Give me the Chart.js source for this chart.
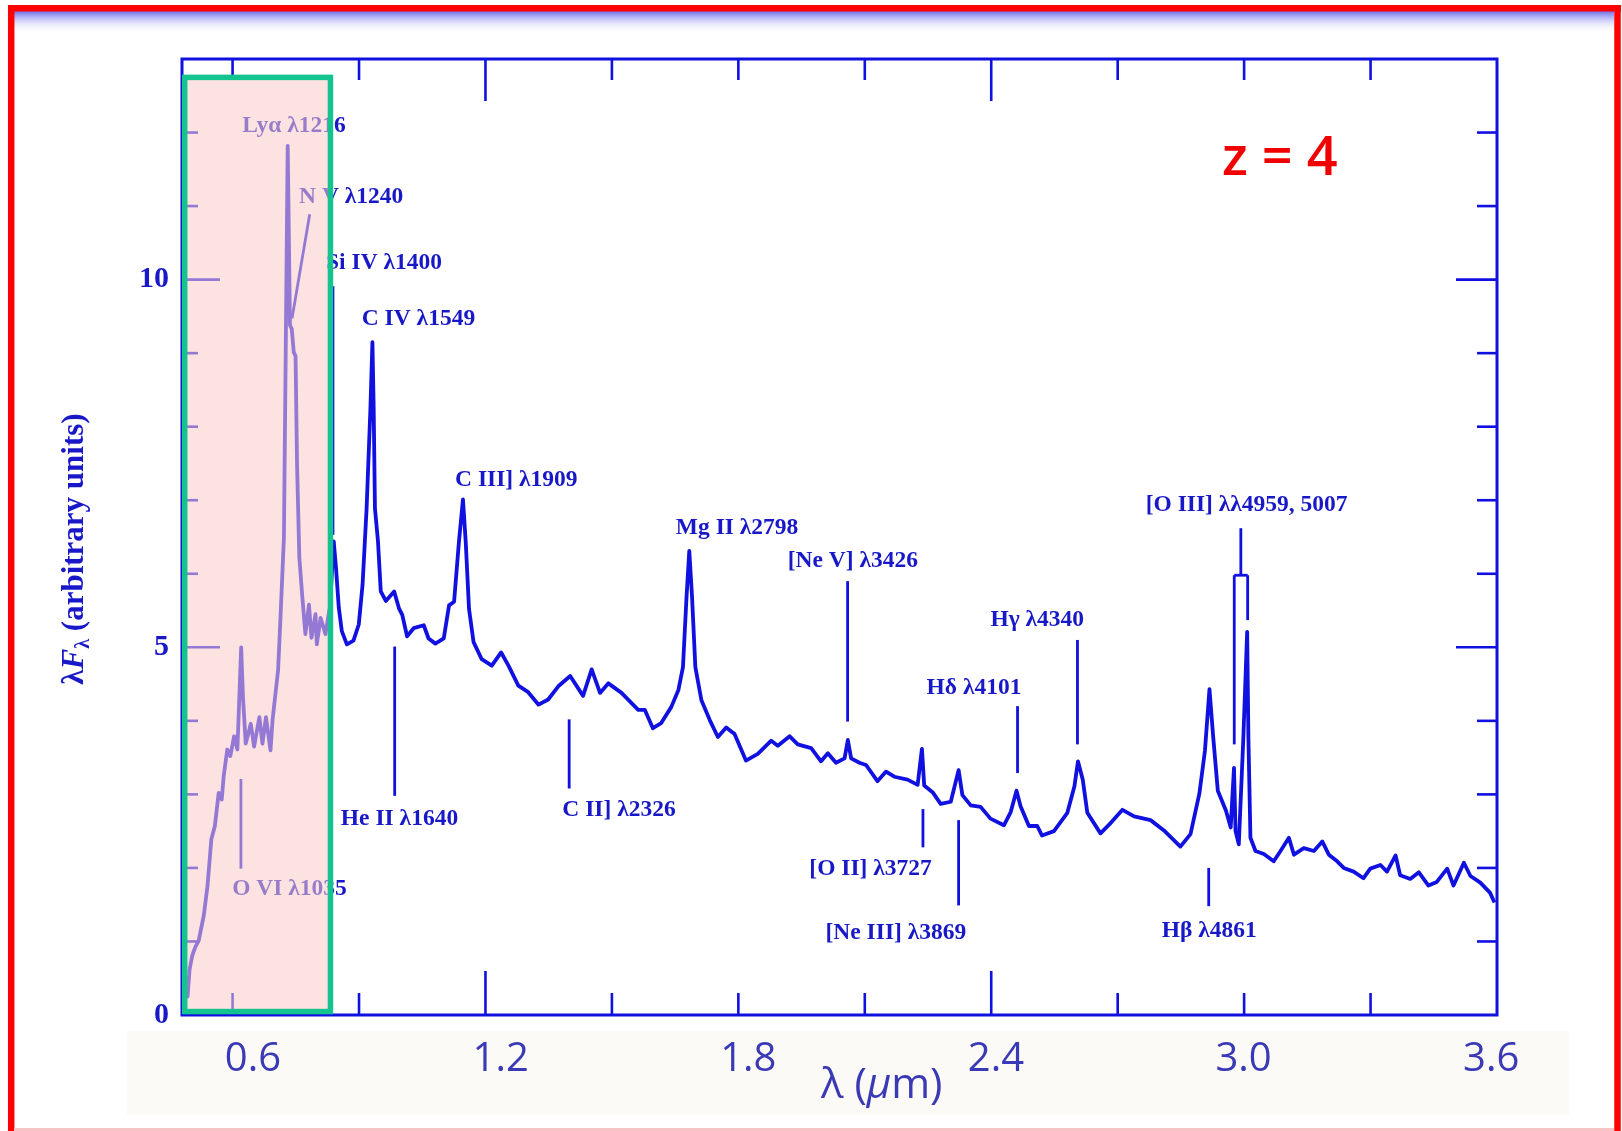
<!DOCTYPE html>
<html>
<head>
<meta charset="utf-8">
<script src="https://cdn.jsdelivr.net/npm/chart.js@4.4.0/dist/chart.umd.min.js"></script>
<style>
html,body{margin:0;padding:0;background:#fff;}
canvas{display:block;}
</style>
</head>
<body>
<canvas id="c" width="1622" height="1131"></canvas>
<script>
// ---- data: composite quasar spectrum, rest wavelength (Å) vs λFλ (arbitrary units) ----
const restWavelength = [805,815,822,830,840,852,866,886,901,916,930,945,957,965,979,991,1006,1019,1034,1041,1052,1072,1085,1106,1118,1132,1150,1158,1180,1189,1203,1218,1227,1234,1242,1249,1255,1264,1275,1288,1302,1312,1328,1333,1348,1367,1385,1400,1409,1420,1432,1452,1478,1499,1514,1530,1545,1553,1558,1563,1575,1586,1606,1639,1658,1671,1690,1716,1756,1775,1802,1835,1856,1876,1895,1911,1922,1935,1953,1985,2025,2062,2091,2130,2169,2210,2248,2288,2335,2386,2420,2453,2486,2538,2604,2630,2662,2695,2735,2763,2781,2795,2806,2817,2830,2854,2887,2919,2952,2985,3030,3077,3130,3156,3203,3235,3288,3327,3354,3386,3420,3433,3446,3479,3505,3550,3584,3617,3669,3709,3726,3735,3768,3800,3840,3871,3886,3919,3958,3997,4050,4077,4100,4116,4149,4182,4201,4248,4301,4329,4343,4362,4380,4432,4472,4519,4565,4630,4683,4748,4788,4823,4845,4863,4878,4896,4928,4947,4960,4966,4979,4997,5012,5017,5025,5045,5078,5117,5144,5177,5197,5236,5276,5309,5335,5368,5394,5433,5472,5499,5539,5565,5599,5617,5657,5691,5729,5762,5803,5828,5869,5895,5934,5973,5990];
const fluxLambda = [0.68,0.45,0.25,0.62,0.80,0.92,1.01,1.35,1.76,2.39,2.57,3.02,2.93,3.25,3.61,3.52,3.79,3.61,5.00,4.33,3.69,3.96,3.65,4.05,3.69,4.05,3.60,4.01,4.69,5.37,6.49,11.82,9.38,9.33,9.01,8.96,7.48,6.22,5.72,5.18,5.58,5.13,5.45,5.04,5.40,5.18,5.55,6.44,6.08,5.54,5.22,5.04,5.09,5.31,5.85,6.89,8.24,9.15,8.24,6.89,6.44,5.76,5.63,5.76,5.53,5.44,5.15,5.26,5.30,5.12,5.05,5.12,5.57,5.62,6.43,7.01,6.43,5.52,5.07,4.84,4.75,4.93,4.75,4.48,4.39,4.22,4.29,4.47,4.61,4.34,4.70,4.38,4.51,4.38,4.15,4.15,3.90,3.97,4.19,4.42,4.73,5.68,6.31,5.68,4.73,4.28,4.01,3.78,3.91,3.82,3.46,3.55,3.73,3.66,3.79,3.68,3.63,3.45,3.56,3.43,3.49,3.74,3.49,3.43,3.40,3.18,3.31,3.24,3.20,3.13,3.62,3.12,3.03,2.87,2.90,3.33,2.99,2.85,2.83,2.67,2.58,2.76,3.05,2.84,2.57,2.57,2.44,2.50,2.75,3.11,3.45,3.20,2.75,2.47,2.61,2.79,2.70,2.65,2.51,2.29,2.46,3.01,3.59,4.43,3.77,3.05,2.78,2.55,3.36,2.50,2.32,3.77,5.21,3.77,2.41,2.23,2.19,2.09,2.23,2.41,2.18,2.27,2.23,2.36,2.18,2.09,2.00,1.95,1.86,1.99,2.04,1.95,2.17,1.90,1.85,1.94,1.76,1.81,1.99,1.76,2.07,1.89,1.80,1.66,1.53];

// axis tick labels
const yTickValues = [0, 5, 10];
const xTickLabels = [0.6, 1.2, 1.8, 2.4, 3.0, 3.6];

// emission-line annotations (text anchored in data units: rest Å, flux)
const labelTexts  = ['Lyα λ1216','N V λ1240','Si IV λ1400','C IV λ1549','C III] λ1909','He II λ1640','Mg II λ2798','C II] λ2326','[Ne V] λ3426','Hδ λ4101','Hγ λ4340','[O III] λλ4959, 5007','[O II] λ3727','[Ne III] λ3869','Hβ λ4861','O VI λ1035'];
const labelLambda = [1243,1469,1599,1735,2122,1660,2995,2528,3453,3932,4182,5010,3523,3623,4862,1225];
const labelFlux   = [12.09,11.12,10.23,9.46,7.28,2.66,6.63,2.79,6.18,4.45,5.37,6.93,1.98,1.12,1.15,1.72];

// marker segments (rest Å, flux) -> (rest Å, flux)
const segLambda1 = [1033,1305,1397,1641,2331,3432,3730,3871,4104,4341,4987,4961,4961,5014,4860];
const segFlux1   = [3.21,10.89,9.91,5.01,4.02,5.90,2.80,2.65,4.20,5.10,6.62,5.98,5.98,5.98,2.00];
const segLambda2 = [1033,1235,1397,1641,2331,3432,3730,3871,4104,4341,4987,5014,4961,5014,4860];
const segFlux2   = [1.99,9.47,6.53,2.98,3.08,3.99,2.28,1.49,3.29,3.68,5.98,5.98,3.68,5.37,1.48];

// highlighted band (rest Å range, flux range)
const boxLambda = [810.7, 1387];
const boxFlux   = [0.047, 12.75];

const BLUE = '#1010e0';
const TEXTBLUE = '#1818c8';
const serif = '"Liberation Serif","Times New Roman",serif';

function seg(ctx, x1, y1, x2, y2) { ctx.beginPath(); ctx.moveTo(x1, y1); ctx.lineTo(x2, y2); ctx.stroke(); }

const decor = {
  id: 'decor',
  beforeDraw(chart) {
    const ctx = chart.ctx;
    ctx.save();
    ctx.fillStyle = '#ffffff';
    ctx.fillRect(0, 0, chart.width, chart.height);
    const g = ctx.createLinearGradient(0, 11, 0, 33);
    g.addColorStop(0, 'rgba(100,100,236,0.95)');
    g.addColorStop(1, 'rgba(255,255,255,0)');
    ctx.fillStyle = g;
    ctx.fillRect(14, 11, 1600, 22);
    ctx.fillStyle = '#fbfaf6';
    ctx.fillRect(127, 1031, 1442, 84);
    ctx.restore();
  },
  afterDraw(chart) {
    const ctx = chart.ctx;
    const a = chart.chartArea;
    const x = chart.scales.x, y = chart.scales.y;
    ctx.save();
    // frame
    ctx.strokeStyle = BLUE;
    ctx.lineWidth = 3;
    ctx.strokeRect(a.left, a.top, a.right - a.left, a.bottom - a.top);
    // inward ticks
    ctx.lineWidth = 2.6;
    for (let v = 1000; v < 6000; v += 500) {
      const px = x.getPixelForValue(v);
      const major = v % 2000 === 0;
      seg(ctx, px, a.bottom, px, a.bottom - (major ? 44 : 22));
      seg(ctx, px, a.top, px, a.top + (major ? 42 : 21));
    }
    for (let v = 1; v < 13; v++) {
      const py = y.getPixelForValue(v);
      const major = v % 5 === 0;
      seg(ctx, a.left, py, a.left + (major ? 38 : 16), py);
      seg(ctx, a.right, py, a.right - (major ? 41 : 20), py);
    }
    // marker lines
    ctx.lineWidth = 2.8;
    for (let i = 0; i < segLambda1.length; i++) {
      seg(ctx, x.getPixelForValue(segLambda1[i]), y.getPixelForValue(segFlux1[i]),
               x.getPixelForValue(segLambda2[i]), y.getPixelForValue(segFlux2[i]));
    }
    // labels
    ctx.fillStyle = TEXTBLUE;
    ctx.font = 'bold 23.5px ' + serif;
    ctx.textAlign = 'center';
    ctx.textBaseline = 'middle';
    for (let i = 0; i < labelTexts.length; i++) {
      ctx.fillText(labelTexts[i], x.getPixelForValue(labelLambda[i]), y.getPixelForValue(labelFlux[i]));
    }
    // highlight box
    const bx1 = x.getPixelForValue(boxLambda[0]), bx2 = x.getPixelForValue(boxLambda[1]);
    const by1 = y.getPixelForValue(boxFlux[1]), by2 = y.getPixelForValue(boxFlux[0]);
    ctx.fillStyle = 'rgba(251,203,203,0.56)';
    ctx.fillRect(bx1, by1, bx2 - bx1, by2 - by1);
    ctx.strokeStyle = '#14c48e';
    ctx.lineWidth = 5.5;
    ctx.strokeRect(bx1, by1, bx2 - bx1, by2 - by1);

    // y axis title
    ctx.save();
    ctx.translate(75, 549);
    ctx.rotate(-Math.PI / 2);
    ctx.fillStyle = TEXTBLUE;
    ctx.textBaseline = 'middle';
    ctx.textAlign = 'left';
    const parts = [
      ['λ', 'bold 31px ' + serif, 0],
      ['F', 'italic bold 31px ' + serif, 0],
      ['λ', 'bold 20px ' + serif, 9],
      [' (arbitrary units)', 'bold 31px ' + serif, 0]
    ];
    let tw = 0;
    parts.forEach(p => { ctx.font = p[1]; tw += ctx.measureText(p[0]).width; });
    let cx = -tw / 2;
    parts.forEach(p => { ctx.font = p[1]; ctx.fillText(p[0], cx, p[2]); cx += ctx.measureText(p[0]).width; });
    ctx.restore();

    // x axis title
    ctx.fillStyle = '#3a3ab6';
    ctx.textAlign = 'left';
    ctx.textBaseline = 'alphabetic';
    let tx = 821;
    const xparts = [['λ (', '42px "Open Sans"'], ['μ', 'italic 42px "Open Sans"'], ['m)', '42px "Open Sans"']];
    xparts.forEach(p => { ctx.font = p[1]; ctx.fillText(p[0], tx, 1098); tx += ctx.measureText(p[0]).width; });

    // z = 4
    ctx.fillStyle = '#f00000';
    ctx.font = '600 54px "Open Sans"';
    ctx.fillText('z = 4', 1222, 175);

    // outer red frame
    ctx.strokeStyle = '#ff0000';
    ctx.lineWidth = 6.5;
    seg(ctx, 11.2, 5, 11.2, 1131);
    seg(ctx, 8, 8.2, 1621, 8.2);
    seg(ctx, 1617.5, 5, 1617.5, 1131);
    ctx.fillStyle = '#f6c4c4';
    ctx.fillRect(14, 1128, 1600, 3);
    ctx.restore();
  }
};

new Chart(document.getElementById('c'), {
  type: 'line',
  data: {
    datasets: [{
      data: restWavelength.map((w, i) => ({ x: w, y: fluxLambda[i] })),
      borderColor: BLUE,
      borderWidth: 3.8,
      borderJoinStyle: 'round',
      pointRadius: 0,
      tension: 0,
      fill: false,
      xAxisID: 'x',
      yAxisID: 'y'
    }]
  },
  options: {
    responsive: false,
    animation: false,
    devicePixelRatio: 1,
    layout: { padding: { left: 72, right: 125, top: 59, bottom: 0 } },
    plugins: { legend: { display: false }, tooltip: { enabled: false } },
    scales: {
      x: { type: 'linear', min: 800, max: 6000, display: false },
      x2: {
        type: 'linear', position: 'bottom', min: 0.428, max: 3.614,
        grid: { display: false, drawTicks: false }, border: { display: false },
        afterBuildTicks: (axis) => { axis.ticks = xTickLabels.map(v => ({ value: v })); },
        afterFit: (axis) => { axis.height = 116; },
        ticks: { autoSkip: false, maxRotation: 0, padding: 21, color: '#3a3ab6',
                 font: { family: '"Open Sans"', size: 40 }, callback: (v) => Number(v).toFixed(1) }
      },
      y: {
        type: 'linear', min: 0, max: 13,
        grid: { display: false, drawTicks: false }, border: { display: false },
        afterBuildTicks: (axis) => { axis.ticks = yTickValues.map(v => ({ value: v })); },
        afterFit: (axis) => { axis.width = 110; },
        ticks: { padding: 13, color: TEXTBLUE, font: { family: serif, size: 30, weight: 'bold' },
                 callback: (v) => String(v) }
      }
    }
  },
  plugins: [decor]
});
</script>
</body>
</html>
